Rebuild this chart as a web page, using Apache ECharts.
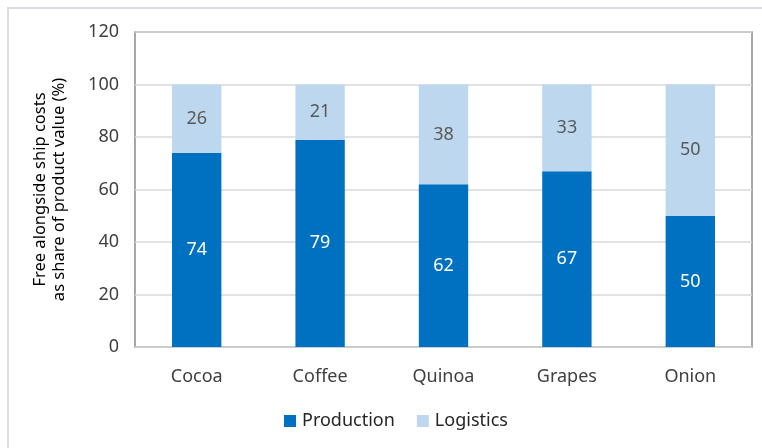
<!DOCTYPE html>
<html><head><meta charset="utf-8">
<script src="https://cdn.jsdelivr.net/npm/echarts@6/dist/echarts.min.js"></script>
<style>html,body{margin:0;padding:0;background:#fff}#c{width:762px;height:448px}</style>
</head><body><div id="c"></div>
<script>
const categories = ['Cocoa', 'Coffee', 'Quinoa', 'Grapes', 'Onion'];
const production = [74, 79, 62, 67, 50];
const logistics = [26, 21, 38, 33, 50];
const yTicks = [0, 20, 40, 60, 80, 100, 120];
const FONT = 'Noto Sans';
const chart = echarts.init(document.getElementById('c'), null, {renderer: 'canvas'});
chart.setOption({
  animation: false,
  textStyle: {fontFamily: FONT},
  graphic: [{type: 'rect', shape: {x: 8, y: 8, width: 800, height: 500}, style: {fill: 'none', stroke: '#d9dde3', lineWidth: 2}, silent: true}],
  grid: {left: 135, right: 10, top: 32, bottom: 101, show: true, borderColor: '#8c8c8c', borderWidth: 1.5, backgroundColor: 'transparent'},
  legend: {bottom: 13, left: 279, itemWidth: 12, itemHeight: 12, itemGap: 22, icon: 'rect',
    textStyle: {fontFamily: FONT, fontSize: 18, color: '#262626', padding: [0, 0, 0, 1]}, data: ['Production', 'Logistics']},
  xAxis: {type: 'category', data: categories, axisLine: {show: false}, axisTick: {show: false},
    axisLabel: {fontFamily: FONT, fontSize: 18, color: '#404040', margin: 21}},
  yAxis: {type: 'value', min: yTicks[0], max: yTicks[yTicks.length-1], interval: 20,
    name: 'Free alongside ship costs\nas share of product value (%)', nameLocation: 'middle', nameGap: 66,
    nameTextStyle: {fontFamily: FONT, fontSize: 16.5, color: '#000', lineHeight: 19},
    axisLine: {show: false}, axisTick: {show: false},
    axisLabel: {fontFamily: FONT, fontSize: 18, color: '#404040', margin: 16},
    splitLine: {lineStyle: {color: '#d9d9d9', width: 1.5}}},
  series: [
    {name: 'Production', type: 'bar', stack: 's', data: production, barWidth: '40%', itemStyle: {color: '#0070c0'},
     label: {show: true, position: 'inside', color: '#fff', fontSize: 18, fontFamily: FONT}},
    {name: 'Logistics', type: 'bar', stack: 's', data: logistics, itemStyle: {color: '#bdd7ee'},
     label: {show: true, position: 'inside', color: '#595959', fontSize: 18, fontFamily: FONT}}
  ]
});
</script></body></html>
